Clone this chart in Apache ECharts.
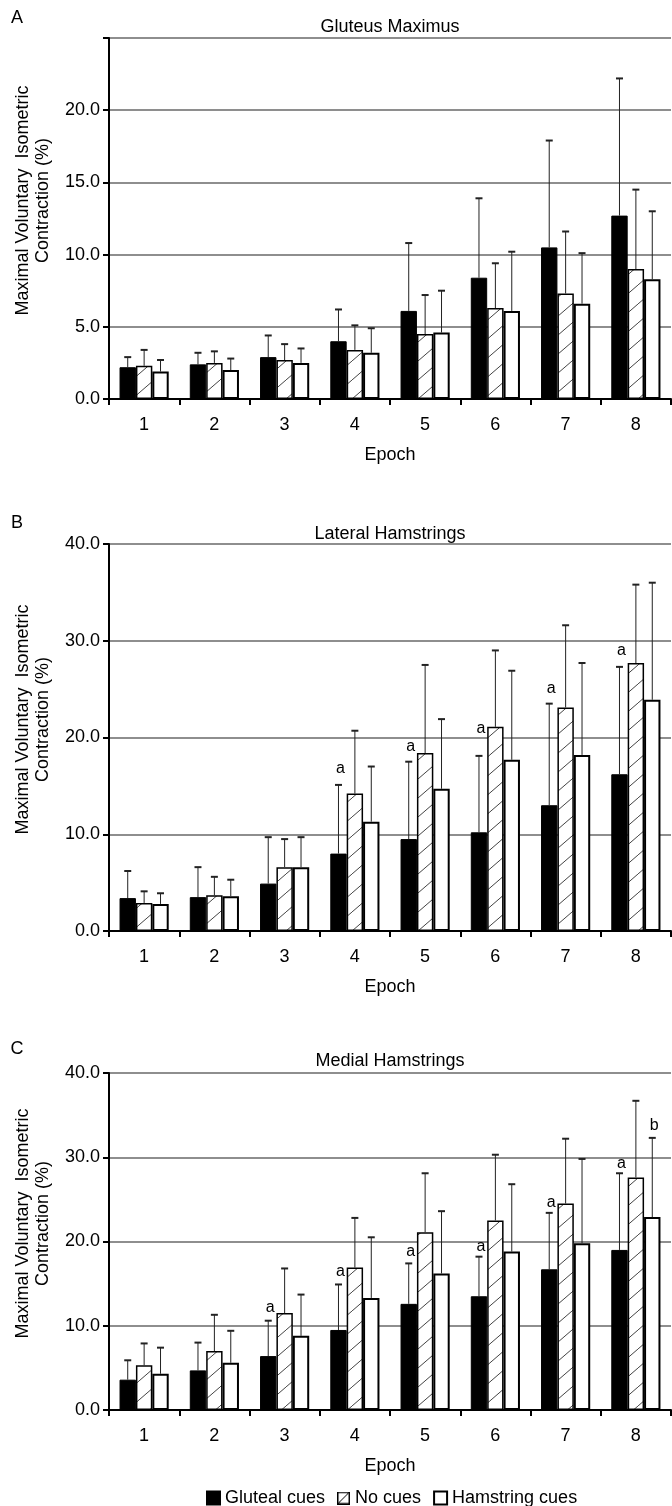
<!DOCTYPE html>
<html>
<head>
<meta charset="utf-8">
<script src="https://cdn.jsdelivr.net/npm/echarts@6/dist/echarts.min.js"></script>
<style>
html,body{margin:0;padding:0;background:#fff;}
#chart{width:672px;height:1506px;}
</style>
</head>
<body>
<div id="chart"></div>
<script>
// ---------- DATA ----------
const epochs = ['1','2','3','4','5','6','7','8'];
const seriesNames = ['Gluteal cues','No cues','Hamstring cues'];
const panelTitles = ['Gluteus Maximus','Lateral Hamstrings','Medial Hamstrings'];
const panelLetters = ['A','B','C'];
const yTitle = 'Maximal Voluntary  Isometric\nContraction (%)';
const xTitle = 'Epoch';

// A: Gluteus Maximus (mean, SD)
const gmGluteal   = [2.2, 2.4, 2.9, 4.0, 6.1, 8.4, 10.5, 12.7];
const gmGlutealSD = [0.7, 0.8, 1.5, 2.2, 4.7, 5.5, 7.4, 9.5];
const gmNone      = [2.3, 2.5, 2.7, 3.4, 4.5, 6.3, 7.3, 9.0];
const gmNoneSD    = [1.1, 0.8, 1.1, 1.7, 2.7, 3.1, 4.3, 5.5];
const gmHam       = [1.9, 2.0, 2.5, 3.2, 4.6, 6.1, 6.6, 8.3];
const gmHamSD     = [0.8, 0.8, 1.0, 1.7, 2.9, 4.1, 3.5, 4.7];

// B: Lateral Hamstrings
const lhGluteal   = [3.4, 3.5, 4.9, 8.0, 9.5, 10.2, 13.0, 16.2];
const lhGlutealSD = [2.8, 3.1, 4.8, 7.1, 8.0, 7.9, 10.5, 11.1];
const lhNone      = [2.9, 3.7, 6.6, 14.2, 18.4, 21.1, 23.1, 27.7];
const lhNoneSD    = [1.2, 1.9, 2.9, 6.5, 9.1, 7.9, 8.5, 8.1];
const lhHam       = [2.8, 3.6, 6.6, 11.3, 14.7, 17.7, 18.2, 23.9];
const lhHamSD     = [1.1, 1.7, 3.1, 5.7, 7.2, 9.2, 9.5, 12.1];

// C: Medial Hamstrings
const mhGluteal   = [3.6, 4.7, 6.4, 9.5, 12.6, 13.5, 16.7, 19.0];
const mhGlutealSD = [2.3, 3.3, 4.2, 5.4, 4.8, 4.7, 6.7, 9.1];
const mhNone      = [5.3, 7.0, 11.5, 16.9, 21.1, 22.5, 24.5, 27.6];
const mhNoneSD    = [2.6, 4.3, 5.3, 5.9, 7.0, 7.8, 7.7, 9.1];
const mhHam       = [4.3, 5.6, 8.8, 13.3, 16.2, 18.8, 19.8, 22.9];
const mhHamSD     = [3.1, 3.8, 4.9, 7.2, 7.4, 8.0, 10.0, 9.4];

// y-axis ranges / ticks
const yMax = [25, 40, 40];
const yInterval = [5, 10, 10];

// significance annotations: epoch index, bar (0 gluteal,1 none,2 hamstring), y value, letter
const annBCat = [3, 4, 5, 6, 7];
const annBBar = [0, 0, 0, 0, 0];
const annBY   = [16.8, 19.1, 20.9, 25.1, 29.0];
const annBTxt = ['a','a','a','a','a'];
const annCCat = [2, 3, 4, 5, 6, 7, 7];
const annCBar = [0, 0, 0, 0, 0, 0, 2];
const annCY   = [12.2, 16.4, 18.8, 19.4, 24.6, 29.2, 33.7];
const annCTxt = ['a','a','a','a','a','a','b'];
const annACat = [], annABar = [], annAY = [], annATxt = [];

// ---------- LAYOUT / STYLE ----------
const FONT = "'Liberation Sans', Arial, sans-serif";
const grids = [
  {top: 38, height: 361},
  {top: 544, height: 387},
  {top: 1073, height: 337}
];
const plotLeft = 109, plotRight = 671;
const plotCx = (plotLeft + plotRight) / 2;
const letterY = [18, 523, 1049];
const titleY = [27, 534, 1061];

const means = [[gmGluteal, gmNone, gmHam],[lhGluteal, lhNone, lhHam],[mhGluteal, mhNone, mhHam]];
const sds = [[gmGlutealSD, gmNoneSD, gmHamSD],[lhGlutealSD, lhNoneSD, lhHamSD],[mhGlutealSD, mhNoneSD, mhHamSD]];
const anns = [
  [annACat, annABar, annAY, annATxt],
  [annBCat, annBBar, annBY, annBTxt],
  [annCCat, annCBar, annCY, annCTxt]
];

// hatch pattern
const pc = document.createElement('canvas');
const TW = 22, TH = 19;
pc.width = TW; pc.height = TH;
const ctx = pc.getContext('2d');
ctx.fillStyle = '#fff'; ctx.fillRect(0,0,TW,TH);
ctx.strokeStyle = '#444'; ctx.lineWidth = 1;
ctx.beginPath();
ctx.moveTo(0, TH); ctx.lineTo(TW, 0);
ctx.moveTo(-TW, TH); ctx.lineTo(0, 0);
ctx.moveTo(TW, TH); ctx.lineTo(2*TW, 0);
ctx.stroke();

// hatched legend icon
const ic = document.createElement('canvas');
ic.width = 13; ic.height = 13;
const ictx = ic.getContext('2d');
ictx.fillStyle = '#fff'; ictx.fillRect(0,0,13,13);
ictx.strokeStyle = '#000'; ictx.lineWidth = 1.5;
ictx.strokeRect(0.75, 0.75, 11.5, 11.5);
ictx.lineWidth = 1;
ictx.beginPath(); ictx.moveTo(1.5, 11.5); ictx.lineTo(11.5, 1.5); ictx.stroke();

const barStyles = [
  {color: '#000', borderColor: '#000', borderWidth: 1},
  {color: {image: pc, repeat: 'repeat'}, borderColor: '#000', borderWidth: 1.5},
  {color: '#fff', borderColor: '#000', borderWidth: 2}
];

const GAP = 0.30; // barCategoryGap

const gridOpt = [], xAxes = [], yAxes = [], series = [], graphics = [];

for (let p = 0; p < 3; p++) {
  gridOpt.push({left: plotLeft, right: 672 - plotRight, top: grids[p].top, height: grids[p].height, containLabel: false});
  xAxes.push({
    type: 'category', gridIndex: p, data: epochs,
    axisLine: {show: true, lineStyle: {color: '#000', width: 2}},
    axisTick: {show: true, length: 6, lineStyle: {color: '#000', width: 2}},
    axisLabel: {margin: 17, fontSize: 18, color: '#000', fontFamily: FONT},
    splitLine: {show: false}
  });
  const mx = yMax[p];
  yAxes.push({
    type: 'value', gridIndex: p, min: 0, max: mx, interval: yInterval[p],
    axisLine: {show: true, lineStyle: {color: '#000', width: 2}},
    axisTick: {show: true, length: 6, lineStyle: {color: '#000', width: 2}},
    axisLabel: {margin: 9, fontSize: 18, color: '#000', fontFamily: FONT,
      formatter: v => (p === 0 && v === mx) ? '' : v.toFixed(1)},
    splitLine: {show: true, lineStyle: {color: '#8e8e8e', width: 2}}
  });
  for (let s = 0; s < 3; s++) {
    series.push({
      type: 'bar', name: seriesNames[s], xAxisIndex: p, yAxisIndex: p,
      data: means[p][s], barGap: '0%', barCategoryGap: (GAP*100) + '%',
      itemStyle: barStyles[s], z: 2
    });
  }
  // error bars
  const errData = [];
  for (let s = 0; s < 3; s++) for (let c = 0; c < epochs.length; c++) {
    errData.push([c, s, means[p][s][c], means[p][s][c] + sds[p][s][c]]);
  }
  series.push({
    type: 'custom', name: 'err' + p, xAxisIndex: p, yAxisIndex: p, z: 5,
    encode: {x: 0, y: 3},
    data: errData,
    renderItem: function (params, api) {
      const c = api.value(0), s = api.value(1);
      const base = api.coord([c, api.value(2)]);
      const top = api.coord([c, api.value(3)]);
      const bw = api.size([1, 0])[0] * (1 - GAP) / 3;
      const x = base[0] + (s - 1) * bw;
      return {type: 'group', children: [
        {type: 'line', shape: {x1: x, y1: base[1], x2: x, y2: top[1]}, style: {stroke: '#222', lineWidth: 1}},
        {type: 'line', shape: {x1: x - 3.5, y1: top[1], x2: x + 3.5, y2: top[1]}, style: {stroke: '#222', lineWidth: 2}}
      ]};
    }
  });
  // annotations
  const a = anns[p];
  if (a[0].length) {
    const annData = a[0].map((c, i) => [c, a[1][i], a[2][i]]);
    const letters = a[3];
    series.push({
      type: 'custom', name: 'ann' + p, xAxisIndex: p, yAxisIndex: p, z: 6,
      encode: {x: 0, y: 2},
      data: annData,
      renderItem: function (params, api) {
        const c = api.value(0), s = api.value(1);
        const pt = api.coord([c, api.value(2)]);
        const bw = api.size([1, 0])[0] * (1 - GAP) / 3;
        return {type: 'text', x: pt[0] + (s - 1) * bw + 2, y: pt[1],
          style: {text: letters[params.dataIndex], fill: '#000', font: '16px ' + FONT,
            align: 'center', verticalAlign: 'middle', textAlign: 'center', textVerticalAlign: 'middle'}};
      }
    });
  }
  const bottom = grids[p].top + grids[p].height;
  const textStyle = (txt, size) => ({text: txt, fill: '#000', font: size + 'px ' + FONT,
    align: 'center', verticalAlign: 'middle', textAlign: 'center', textVerticalAlign: 'middle'});
  graphics.push({type: 'text', x: 17, y: letterY[p], style: textStyle(panelLetters[p], 18)});
  graphics.push({type: 'text', x: plotCx, y: titleY[p], style: textStyle(panelTitles[p], 18)});
  graphics.push({type: 'text', x: plotCx, y: bottom + 56, style: textStyle(xTitle, 18)});
  graphics.push({type: 'text', x: 33, y: grids[p].top + grids[p].height / 2 - 18, rotation: Math.PI / 2,
    style: Object.assign(textStyle(yTitle, 18), {lineHeight: 20})});
}

const chart = echarts.init(document.getElementById('chart'), null, {renderer: 'canvas'});
chart.setOption({
  animation: false,
  backgroundColor: '#fff',
  grid: gridOpt,
  xAxis: xAxes,
  yAxis: yAxes,
  legend: {
    data: [
      {name: seriesNames[0], icon: 'rect'},
      {name: seriesNames[1], icon: 'image://' + ic.toDataURL()},
      {name: seriesNames[2], icon: 'rect'}
    ],
    left: 206, top: 1489, padding: 0,
    itemWidth: 13, itemHeight: 13, itemGap: 12,
    textStyle: {fontSize: 18, color: '#000', fontFamily: FONT}
  },
  graphic: graphics,
  series: series
});
</script>
</body>
</html>
